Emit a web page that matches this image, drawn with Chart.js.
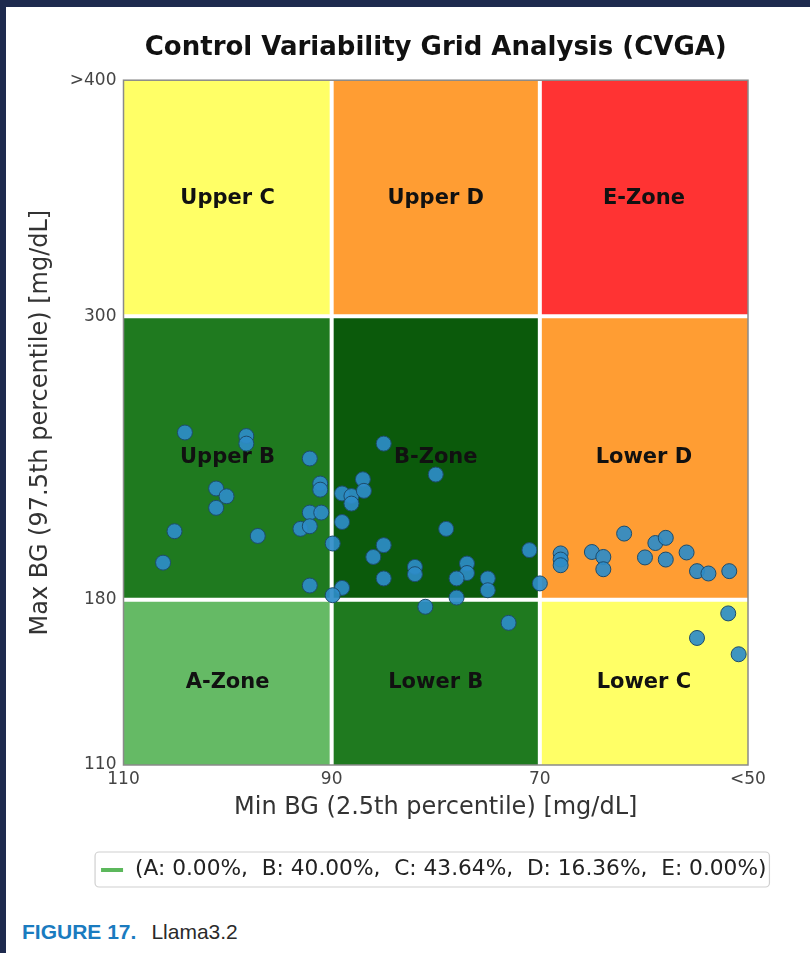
<!DOCTYPE html>
<html>
<head>
<meta charset="utf-8">
<script src="https://cdn.jsdelivr.net/npm/chart.js@4"></script>
<style>
    body { margin: 0; background: #1e2a4e; width: 810px; height: 953px; overflow: hidden; }
    #panel { position: absolute; left: 6px; top: 7px; width: 804px; height: 946px; background: #fff; }
    #cvga { position: absolute; left: 0; top: 0; }
    #caption { position: absolute; left: 16px; top: 913px; font-family: "Liberation Sans", Arial, sans-serif; font-size: 21px; color: #2a2a2a; }
    #caption b { color: #1a7bbf; margin-right: 15px; }
</style>
</head>
<body>
<div id="panel">
    <canvas id="cvga" width="804" height="900"></canvas>
    <div id="caption"><b>FIGURE 17.</b>Llama3.2</div>
</div>
<script>
// grid boundaries (mg/dL)
const xBounds = [110, 90, 70, 50];
const yBounds = [400, 300, 180, 110];
const xTicks = [110, 90, 70, 50];
const yTicks = [110, 180, 300, 400];

// zones, row by row from the top
const zoneLabels = ["Upper C", "Upper D", "E-Zone",
                    "Upper B", "B-Zone", "Lower D",
                    "A-Zone", "Lower B", "Lower C"];
const zoneColors = ["#ffff66", "#ff9d33", "#ff3333",
                    "#1f7a1f", "#0b5a0b", "#ff9d33",
                    "#65ba65", "#1f7a1f", "#ffff66"];

const legendText = "(A: 0.00%,  B: 40.00%,  C: 43.64%,  D: 16.36%,  E: 0.00%)";

// one point per patient
const minBG = [104.1, 98.2, 98.2, 92.1, 91.1, 91.1, 101.1, 100.1, 101.1, 92.1,
               91.0, 105.1, 93.0, 92.1, 97.1, 106.2, 92.1,
               85.0, 80.0, 87.0, 89.0, 88.1, 88.1, 86.9, 89.0, 79.0, 89.9,
               85.0, 86.0, 82.0, 82.0, 77.0, 77.0, 78.0, 75.0, 75.0, 71.0,
               70.0, 85.0, 89.0, 89.9, 81.0, 78.0, 73.0,
               68.0, 68.0, 68.0, 65.0, 63.9, 63.9, 61.9, 59.9, 58.9, 57.9,
               57.9, 55.9, 54.9, 53.8, 51.8, 51.9, 54.9, 50.9];
const maxBG = [250.8, 249.3, 246.1, 239.8, 229.2, 226.6, 227.1, 223.8, 218.9, 216.9,
               216.9, 209.0, 210.0, 211.1, 207.0, 195.7, 186.0,
               246.1, 233.0, 231.0, 225.0, 223.9, 220.7, 226.1, 212.9, 210.0, 203.8,
               203.1, 198.1, 193.9, 190.8, 195.3, 191.3, 189.0, 189.0, 184.0, 201.0,
               186.9, 189.0, 185.0, 181.9, 177.0, 180.9, 170.2,
               199.6, 197.0, 194.6, 200.2, 198.1, 192.9, 208.0, 197.9, 204.0, 206.2,
               197.0, 200.0, 192.1, 191.1, 192.1, 174.2, 163.8, 156.9];

const points = minBG.map((x, i) => ({ x: x, y: maxBG[i] }));

const zonesPlugin = {
    id: "zones",
    beforeDatasetsDraw(chart) {
        const { ctx, chartArea, scales: { x, y } } = chart;
        ctx.save();
        for (let r = 0; r < 3; r++) {
            for (let c = 0; c < 3; c++) {
                const x0 = x.getPixelForValue(xBounds[c]);
                const x1 = x.getPixelForValue(xBounds[c + 1]);
                const y0 = y.getPixelForValue(yBounds[r]);
                const y1 = y.getPixelForValue(yBounds[r + 1]);
                ctx.fillStyle = zoneColors[r * 3 + c];
                ctx.fillRect(x0, y0, x1 - x0, y1 - y0);
            }
        }
        // white separators
        ctx.strokeStyle = "#ffffff";
        ctx.lineWidth = 4;
        ctx.beginPath();
        [xBounds[1], xBounds[2]].forEach(v => {
            const px = x.getPixelForValue(v);
            ctx.moveTo(px, chartArea.top);
            ctx.lineTo(px, chartArea.bottom);
        });
        [yBounds[1], yBounds[2]].forEach(v => {
            const py = y.getPixelForValue(v);
            ctx.moveTo(chartArea.left, py);
            ctx.lineTo(chartArea.right, py);
        });
        ctx.stroke();
        // frame
        ctx.strokeStyle = "#8a8a8a";
        ctx.lineWidth = 1.5;
        ctx.strokeRect(chartArea.left, chartArea.top,
                       chartArea.right - chartArea.left, chartArea.bottom - chartArea.top);
        // zone names
        ctx.fillStyle = "#111";
        ctx.font = "bold 21px 'DejaVu Sans'";
        ctx.textAlign = "center";
        ctx.textBaseline = "middle";
        for (let r = 0; r < 3; r++) {
            for (let c = 0; c < 3; c++) {
                const cx = (x.getPixelForValue(xBounds[c]) + x.getPixelForValue(xBounds[c + 1])) / 2;
                const cy = (y.getPixelForValue(yBounds[r]) + y.getPixelForValue(yBounds[r + 1])) / 2;
                ctx.fillText(zoneLabels[r * 3 + c], cx, cy);
            }
        }
        ctx.restore();
    },
    afterDraw(chart) {
        // matplotlib style legend box under the x axis
        const { ctx, chartArea, scales: { x } } = chart;
        ctx.save();
        ctx.font = "21.7px 'DejaVu Sans'";
        const textW = ctx.measureText(legendText).width;
        const markW = 22, gap = 12;
        const total = markW + gap + textW;
        const left = (chartArea.left + chartArea.right) / 2 - 2 - total / 2;
        const cy = x.bottom + 21;
        ctx.strokeStyle = "#d0d0d0";
        ctx.lineWidth = 1.2;
        ctx.beginPath();
        ctx.roundRect(left - 6, cy - 17, total + 9, 35, 4);
        ctx.stroke();
        ctx.strokeStyle = "#5cb85c";
        ctx.lineWidth = 4;
        ctx.beginPath();
        ctx.moveTo(left, cy + 1);
        ctx.lineTo(left + markW, cy + 1);
        ctx.stroke();
        ctx.fillStyle = "#222";
        ctx.textAlign = "left";
        ctx.textBaseline = "middle";
        ctx.fillText(legendText, left + markW + gap, cy);
        ctx.restore();
    }
};

Chart.defaults.font.family = "'DejaVu Sans'";
Chart.defaults.color = "#333";

new Chart(document.getElementById("cvga"), {
    type: "scatter",
    data: {
        datasets: [{
            label: legendText,
            data: points,
            pointRadius: 7.5,
            pointHoverRadius: 7.5,
            borderWidth: 1,
            backgroundColor: "rgba(46, 140, 200, 0.92)",
            borderColor: "#1d4c6c"
        }]
    },
    options: {
        responsive: false,
        animation: false,
        events: [],
        layout: { padding: { left: 0, right: 62, top: 0, bottom: 59 } },
        plugins: {
            title: {
                display: true,
                text: "Control Variability Grid Analysis (CVGA)",
                fullSize: false,
                color: "#111",
                font: { size: 26, weight: "bold" },
                padding: { top: 26, bottom: 16 }
            },
            legend: { display: false },
            tooltip: { enabled: false }
        },
        scales: {
            x: {
                type: "linear",
                min: 50,
                max: 110,
                reverse: true,
                grid: { display: false, drawTicks: false },
                border: { display: false },
                afterBuildTicks: s => { s.ticks = xTicks.map(v => ({ value: v })); },
                afterFit: s => { s.height = 83; },
                ticks: {
                    padding: 4,
                    color: "#444",
                    font: { size: 17 },
                    callback: v => v === 50 ? "<50" : String(v)
                },
                title: {
                    display: true,
                    text: "Min BG (2.5th percentile) [mg/dL]",
                    color: "#333",
                    font: { size: 24 },
                    padding: { top: 0, bottom: 26 }
                }
            },
            y: {
                type: "linear",
                min: 110,
                max: 400,
                grid: { display: false, drawTicks: false },
                border: { display: false },
                afterBuildTicks: s => { s.ticks = yTicks.map(v => ({ value: v })); },
                afterFit: s => { s.width = 117.5; },
                ticks: {
                    padding: 7,
                    color: "#444",
                    font: { size: 17 },
                    callback: v => v === 400 ? ">400" : String(v)
                },
                title: {
                    display: true,
                    text: "Max BG (97.5th percentile) [mg/dL]",
                    color: "#333",
                    font: { size: 24 },
                    padding: { top: 20, bottom: 0 }
                }
            }
        }
    },
    plugins: [zonesPlugin]
});
</script>
</body>
</html>
